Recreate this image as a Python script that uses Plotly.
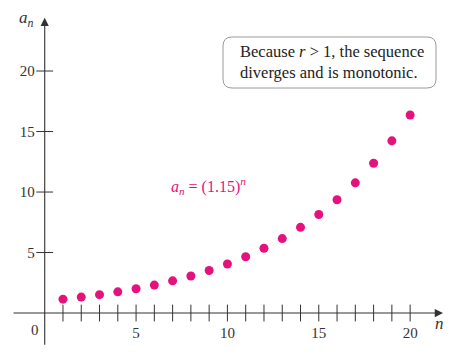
import plotly.graph_objects as go

# Data
n_vals = list(range(1, 21))
a_vals = [1.15, 1.32, 1.52, 1.75, 2.01, 2.31, 2.66, 3.06, 3.52, 4.05,
          4.65, 5.35, 6.15, 7.08, 8.14, 9.36, 10.76, 12.38, 14.23, 16.37]
x_tick_marks = list(range(1, 21))
x_tick_labels = [5, 10, 15, 20]
y_tick_labels = [5, 10, 15, 20]

W, H = 456, 356
X_RANGE = [-2.447, 22.51]
Y_RANGE = [-3.55, 25.87]
PINK = "#E5127D"
AXC = "#333333"
FONT = "Liberation Serif, Times New Roman, DejaVu Serif, serif"

def xfrac(v):
    return (v - X_RANGE[0]) / (X_RANGE[1] - X_RANGE[0])

def yfrac(v):
    return (v - Y_RANGE[0]) / (Y_RANGE[1] - Y_RANGE[0])

fig = go.Figure()

# tick marks crossing the axes
fig.add_trace(go.Scatter(
    x=x_tick_marks, y=[0] * len(x_tick_marks), mode="markers",
    marker=dict(symbol="line-ns", size=12, line=dict(width=1, color=AXC)),
    hoverinfo="skip", showlegend=False))
fig.add_trace(go.Scatter(
    x=[0] * len(y_tick_labels), y=y_tick_labels, mode="markers",
    marker=dict(symbol="line-ew", size=12, line=dict(width=1, color=AXC)),
    hoverinfo="skip", showlegend=False))

# sequence points
fig.add_trace(go.Scatter(
    x=n_vals, y=a_vals, mode="markers",
    marker=dict(color=PINK, size=9), showlegend=False))

annotations = [
    dict(x=21.8, y=0, ax=-1.79, ay=0, xref="x", yref="y", axref="x", ayref="y",
         text="", showarrow=True, arrowhead=2, arrowsize=1.5, arrowwidth=1.1,
         arrowcolor=AXC),
    dict(x=0, y=24.4, ax=0, ay=-2.75, xref="x", yref="y", axref="x", ayref="y",
         text="", showarrow=True, arrowhead=2, arrowsize=1.5, arrowwidth=1.1,
         arrowcolor=AXC),
    dict(x=-0.2, y=-0.55, xref="x", yref="y", text="0", showarrow=False,
         xanchor="right", yanchor="top", font=dict(family=FONT, size=15, color=AXC)),
    dict(x=-0.5, y=24.3, xref="x", yref="y", text="<i>a</i><sub><i>n</i></sub>",
         showarrow=False, xanchor="right", yanchor="middle",
         font=dict(family=FONT, size=17, color=AXC)),
    dict(x=21.6, y=-0.9, xref="x", yref="y", text="<i>n</i>",
         showarrow=False, xanchor="center", yanchor="middle",
         font=dict(family=FONT, size=17, color=AXC)),
    dict(x=8.94, y=10.5, xref="x", yref="y",
         text="<i>a</i><sub><i>n</i></sub> = (1.15)<sup><i>n</i></sup>",
         showarrow=False, xanchor="center", yanchor="middle",
         font=dict(family=FONT, size=16, color=PINK)),
    dict(x=238 / W, y=1 - 62 / H, xref="paper", yref="paper",
         text="Because <i>r</i> > 1, the sequence<br>diverges and is monotonic.",
         align="left", showarrow=False, xanchor="left", yanchor="middle",
         font=dict(family=FONT, size=16.5, color="#222222")),
]

# rounded box (paper coordinates)
x0, x1 = 223 / W, 436 / W
y0, y1 = 1 - 88 / H, 1 - 37 / H
rx, ry = 9 / W, 9 / H
path = (f"M {x0+rx},{y0} L {x1-rx},{y0} Q {x1},{y0} {x1},{y0+ry} "
        f"L {x1},{y1-ry} Q {x1},{y1} {x1-rx},{y1} L {x0+rx},{y1} "
        f"Q {x0},{y1} {x0},{y1-ry} L {x0},{y0+ry} Q {x0},{y0} {x0+rx},{y0} Z")

fig.update_layout(
    width=W, height=H,
    margin=dict(l=0, r=0, t=0, b=0),
    paper_bgcolor="white", plot_bgcolor="white",
    showlegend=False,
    annotations=annotations,
    shapes=[dict(type="path", path=path, xref="paper", yref="paper",
                 line=dict(color="#9a9a9a", width=1), fillcolor="white")],
    xaxis=dict(range=X_RANGE, showgrid=False, zeroline=False, showline=False,
               tickvals=x_tick_labels, ticks="", anchor="free", automargin=False,
               position=yfrac(0), ticklabelstandoff=9,
               tickfont=dict(family=FONT, size=15, color=AXC), fixedrange=True),
    yaxis=dict(range=Y_RANGE, showgrid=False, zeroline=False, showline=False,
               tickvals=y_tick_labels, ticks="", anchor="free", automargin=False,
               position=xfrac(0), ticklabelstandoff=10,
               tickfont=dict(family=FONT, size=15, color=AXC), fixedrange=True),
)

fig.write_html("out.html", config={"displayModeBar": False},
               post_script="document.body.style.margin='0';")
